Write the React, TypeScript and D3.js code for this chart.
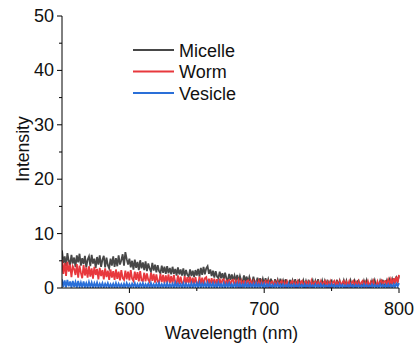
import React from "react";
import * as d3 from "d3";

const wlStart = 550;
const wlStep = 1;

const micelle = [
  6.9,4.6,5.8,4.0,6.4,5.0,4.2,6.1,4.5,5.6,
  3.9,6.0,4.7,6.3,4.1,5.5,4.4,5.9,3.8,5.2,
  5.8,4.0,6.1,4.5,5.4,3.7,5.7,4.3,6.0,3.9,
  5.2,5.9,3.8,5.6,4.2,3.6,5.4,4.1,5.8,3.9,
  5.5,4.0,6.0,4.3,5.1,6.2,4.1,6.6,5.3,4.3,
  5.4,3.8,5.0,3.4,5.2,3.7,4.8,3.3,5.1,3.6,
  4.7,3.3,4.9,3.1,4.5,3.6,3.0,4.6,3.2,4.3,
  2.9,4.2,3.1,2.7,4.1,2.8,3.9,2.6,4.0,2.7,
  3.7,2.5,3.9,2.6,3.5,2.3,3.8,2.5,3.4,2.3,
  3.6,2.2,3.3,2.4,2.1,3.4,2.2,3.2,2.0,3.3,
  2.3,3.5,2.1,3.7,2.4,3.9,2.5,3.6,4.0,2.6,
  3.4,2.2,3.2,1.9,3.1,2.1,1.8,3.0,1.8,2.7,
  1.6,2.8,1.7,1.4,2.6,1.5,2.5,1.3,2.3,1.4,
  2.4,1.2,2.2,1.3,1.1,2.3,1.2,2.1,1.0,2.0,
  1.1,0.9,2.1,1.0,0.8,1.9,0.9,1.8,0.7,1.7,
  0.8,1.8,0.7,1.6,0.6,1.7,0.8,0.5,1.6,0.7,
  1.5,0.5,1.7,0.6,1.4,0.5,1.6,0.7,0.4,1.5,
  0.6,1.4,0.4,1.6,0.5,1.3,1.5,0.4,0.6,1.4,
  0.4,1.3,0.5,1.5,0.4,0.6,1.4,0.3,1.3,0.5,
  1.6,0.4,0.6,1.4,0.3,1.3,0.5,1.5,0.4,1.2,
  1.4,0.3,0.6,0.5,1.5,0.4,1.3,0.3,0.6,1.4,
  0.4,1.3,0.3,0.6,1.4,0.4,0.5,1.3,0.3,1.2,
  1.4,0.4,0.6,0.3,1.3,0.5,1.4,0.4,0.6,0.3,
  1.3,0.5,1.4,0.4,0.6,0.3,1.3,0.5,1.5,0.4,
  0.6,1.4,0.5,1.5,0.6,1.6,0.7,1.6,2.0,1.2,
  2.2,
];

const worm = [
  5.1,2.6,4.6,2.2,4.8,3.0,4.3,2.0,4.0,3.5,
  2.4,4.4,1.9,4.1,2.8,1.8,4.2,2.3,3.8,1.9,
  4.0,2.1,3.6,1.7,3.9,2.4,3.5,1.6,3.7,2.2,
  3.3,1.6,3.6,2.0,3.2,1.5,3.4,1.9,3.1,1.5,
  3.4,1.7,3.0,1.4,3.3,1.8,1.5,3.2,1.6,3.0,
  1.4,3.3,1.7,1.3,3.0,1.5,2.9,1.2,3.1,1.4,
  1.3,2.8,1.2,2.7,1.5,1.1,2.8,1.3,2.6,1.0,
  2.5,1.2,1.0,2.6,1.1,2.4,0.9,2.3,1.0,2.5,
  0.9,2.2,0.8,2.4,1.0,0.8,2.3,0.7,2.1,0.9,
  0.8,2.2,0.7,2.0,0.9,2.1,0.7,1.9,0.6,2.0,
  0.8,0.6,2.1,0.7,1.9,0.6,1.8,2.0,0.6,1.7,
  0.5,1.8,0.6,1.7,0.5,1.6,0.6,1.7,0.5,1.5,
  1.6,0.4,1.5,0.5,1.6,0.4,1.4,1.5,0.4,1.3,
  0.5,1.4,0.4,1.3,0.5,1.4,0.3,1.2,1.4,0.4,
  1.3,0.4,1.2,0.3,1.1,0.5,1.3,0.4,1.2,0.3,
  1.1,1.3,0.4,1.2,0.3,1.0,1.2,0.3,1.1,0.4,
  1.2,0.3,1.0,1.3,0.4,1.1,0.3,1.2,0.5,0.3,
  1.1,1.3,0.4,1.0,0.3,1.2,0.4,1.1,1.3,0.3,
  1.0,1.2,0.3,1.1,0.4,1.3,0.3,1.0,1.2,0.4,
  1.1,0.3,1.2,0.4,1.0,1.3,0.3,1.1,0.4,1.2,
  0.3,1.0,1.3,0.4,1.1,0.3,1.2,0.4,1.0,1.3,
  0.3,1.1,0.4,1.2,0.3,1.0,1.3,0.4,1.1,0.3,
  1.2,0.4,1.0,1.3,0.3,1.1,0.4,1.2,0.3,1.1,
  0.4,1.3,0.5,0.3,1.2,0.4,1.1,1.4,0.5,1.2,
  1.3,0.5,1.5,0.6,1.6,0.7,1.8,0.8,2.1,1.0,
  2.4,
];

const vesicle = [
  1.6,0.2,1.4,0.1,1.5,0.3,1.2,0.1,1.3,0.2,
  1.1,0.1,1.3,0.2,1.0,0.1,1.2,0.2,0.9,0.1,
  1.1,0.2,1.0,0.1,0.9,0.2,1.0,0.1,0.8,0.2,
  0.9,0.1,0.8,0.2,0.9,0.1,0.7,0.2,0.8,0.1,
  0.9,0.1,0.8,0.2,0.7,0.1,0.8,0.1,0.9,0.2,
  0.7,0.1,0.8,0.2,0.9,0.1,0.7,0.1,0.8,0.2,
  0.9,0.1,0.7,0.2,0.8,0.1,0.9,0.1,0.7,0.2,
  0.8,0.1,0.9,0.1,0.7,0.2,0.8,0.1,0.9,0.1,
  0.7,0.2,0.8,0.1,1.0,0.1,0.8,0.2,0.7,0.1,
  0.9,0.1,0.8,0.2,0.7,0.1,0.9,0.1,0.8,0.2,
  0.9,0.1,1.0,0.1,0.8,0.2,0.9,0.1,1.0,0.1,
  0.8,0.2,0.9,0.1,0.8,0.1,1.0,0.2,0.7,0.1,
  0.9,0.1,0.8,0.2,0.9,0.1,0.7,0.1,0.8,0.2,
  0.9,0.1,0.8,0.1,0.7,0.2,0.9,0.1,0.8,0.1,
  0.7,0.2,0.8,0.1,0.9,0.1,0.7,0.2,0.8,0.1,
  0.8,0.1,0.7,0.2,0.8,0.1,0.6,0.1,0.7,0.2,
  0.8,0.1,0.6,0.1,0.7,0.2,0.6,0.1,0.8,0.1,
  0.6,0.2,0.7,0.1,0.6,0.1,0.7,0.2,0.6,0.1,
  0.7,0.1,0.6,0.2,0.7,0.1,0.5,0.1,0.7,0.2,
  0.6,0.1,0.7,0.1,0.6,0.2,0.5,0.1,0.6,0.1,
  0.7,0.2,0.6,0.1,0.5,0.1,0.7,0.2,0.6,0.1,
  0.5,0.1,0.6,0.2,0.7,0.1,0.5,0.1,0.6,0.2,
  0.6,0.1,0.5,0.1,0.7,0.2,0.6,0.1,0.5,0.1,
  0.7,0.2,0.6,0.1,0.5,0.1,0.7,0.2,0.6,0.1,
  0.6,0.1,0.7,0.2,0.6,0.1,0.7,0.2,0.8,0.3,
  0.9,
];

const seriesNames = ["Micelle", "Worm", "Vesicle"];
const seriesColors = ["#474747", "#e8383d", "#2a6fd8"];
const seriesData = [micelle, worm, vesicle];

const xTicks = [600, 700, 800];
const xMinorTicks = [650, 750];
const yTicks = [0, 10, 20, 30, 40, 50];
const yMinorTicks = [5, 15, 25, 35, 45];

const W = 414;
const H = 349;
const M = { left: 62, right: 15, top: 16, bottom: 61 };
const FONT = "'Liberation Sans', Arial, sans-serif";

export default function App() {
  const x = d3.scaleLinear().domain([550, 800]).range([M.left, W - M.right]);
  const y = d3.scaleLinear().domain([0, 50]).range([H - M.bottom, M.top]);
  const line = d3
    .line<number>()
    .x((_, i) => x(wlStart + i * wlStep))
    .y((d) => y(d));

  const x0 = M.left;
  const y0 = H - M.bottom;

  return (
    <svg
      width={W}
      height={H}
      style={{ position: "absolute", left: 0, top: 0, background: "#fff" }}
      fontFamily={FONT}
    >
      <defs>
        <clipPath id="plot">
          <rect x={x0} y={M.top} width={W - M.right - x0 + 1} height={y0 - M.top} />
        </clipPath>
      </defs>
      <g clipPath="url(#plot)">
        {seriesData.map((s, k) => (
          <path
            key={k}
            d={line(s) || ""}
            fill="none"
            stroke={seriesColors[k]}
            strokeWidth={1.8}
            strokeLinejoin="miter"
          />
        ))}
      </g>
      <line x1={x0} x2={x0} y1={M.top} y2={y0} stroke="#000" strokeWidth={1} />
      <line x1={x0} x2={W - M.right} y1={y0} y2={y0} stroke="#000" strokeWidth={1} />
      {yTicks.map((t) => (
        <g key={"y" + t}>
          <line x1={x0 - 5} x2={x0} y1={y(t)} y2={y(t)} stroke="#000" />
          <text x={x0 - 8} y={y(t) + 6} textAnchor="end" fontSize={18} fill="#111">
            {t}
          </text>
        </g>
      ))}
      {yMinorTicks.map((t) => (
        <line key={"ym" + t} x1={x0 - 3} x2={x0} y1={y(t)} y2={y(t)} stroke="#000" />
      ))}
      {xTicks.map((t) => (
        <g key={"x" + t}>
          <line x1={x(t)} x2={x(t)} y1={y0} y2={y0 + 5} stroke="#000" />
          <text x={x(t)} y={y0 + 27} textAnchor="middle" fontSize={18} fill="#111">
            {t}
          </text>
        </g>
      ))}
      {xMinorTicks.map((t) => (
        <line key={"xm" + t} x1={x(t)} x2={x(t)} y1={y0} y2={y0 + 3} stroke="#000" />
      ))}
      <text
        x={(x0 + W - M.right) / 2 + 1}
        y={y0 + 51}
        textAnchor="middle"
        fontSize={17.6}
        fill="#111"
      >
        Wavelength (nm)
      </text>
      <text
        transform={`translate(${29},${y(25) - 3}) rotate(-90)`}
        textAnchor="middle"
        fontSize={17.6}
        fill="#111"
      >
        Intensity
      </text>
      {seriesNames.map((n, k) => (
        <g key={n} transform={`translate(133,${50 + k * 21.5})`}>
          <line x1={0} x2={41} y1={0} y2={0} stroke={seriesColors[k]} strokeWidth={2} />
          <text x={46} y={6.5} fontSize={18} fill="#111">
            {n}
          </text>
        </g>
      ))}
    </svg>
  );
}
